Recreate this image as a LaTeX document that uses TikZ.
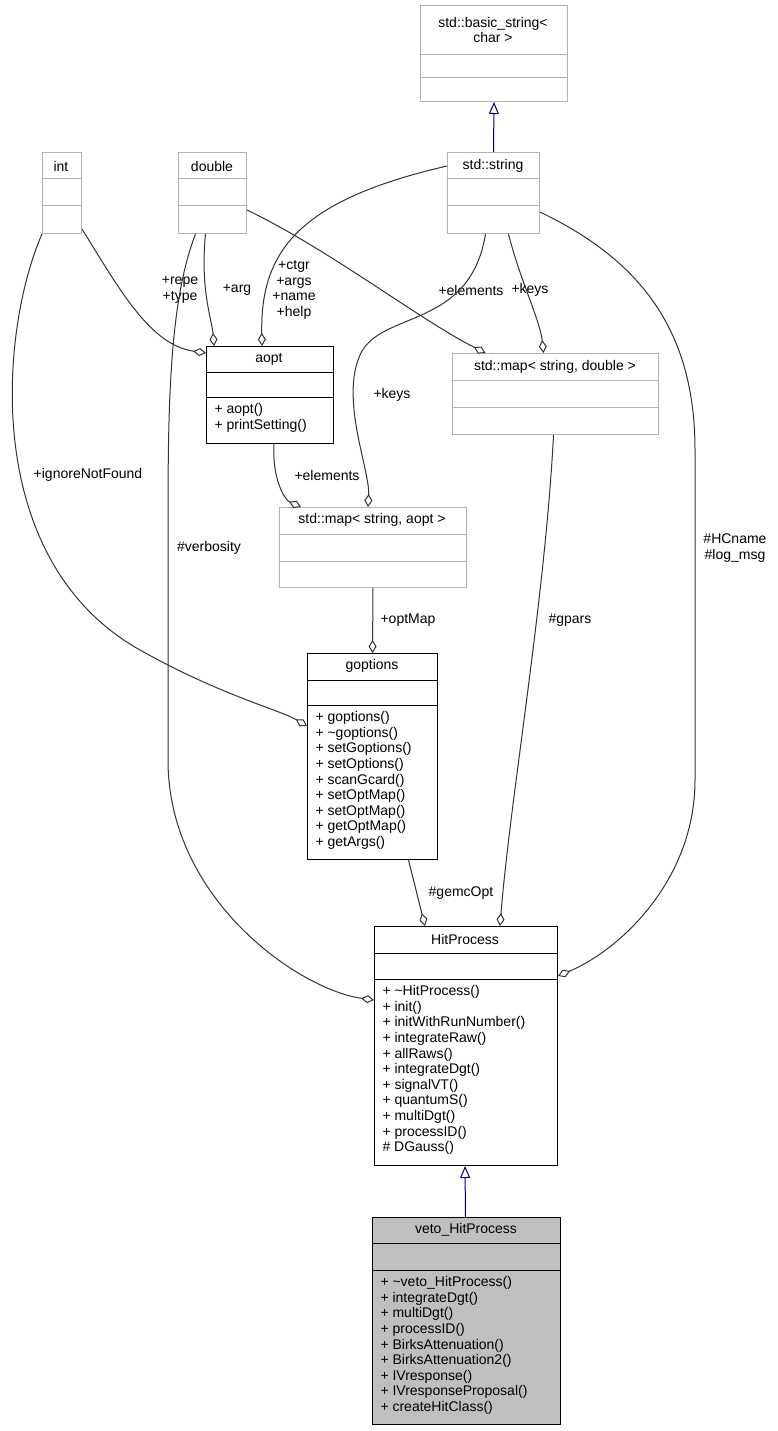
\documentclass[tikz,border=0pt]{standalone}
\usepackage{fontspec}
\setmainfont{Liberation Sans}
\usetikzlibrary{arrows.meta}
\tikzset{
 box/.style={draw=#1,rectangle,inner sep=0pt},
 lbl/.style={font=\fontsize{14}{15.6}\selectfont,align=center,inner sep=0pt},
 agg/.style={draw=black!80,-{Diamond[open,length=13pt,width=8pt]}},
 inh/.style={draw=blue!40!black,-{Triangle[open,length=12pt,width=10pt]}},
}
\newcommand\umlbox[9]{%
 \node[box=#8,minimum width={(#4-#2)*1pt},minimum height={(#5-#3)*1pt},anchor=north west,fill=#9] (#1) at (#2,#3) {};
 \draw[#8] (#2,#6) -- (#4,#6) (#2,#7) -- (#4,#7);}
\begin{document}
\begin{tikzpicture}[x=1pt,y=-1pt,line width=1pt,font=\fontsize{14}{15.6}\selectfont]
\useasboundingbox[fill=white] (0,0) rectangle (777,1431);
\umlbox{bs}{420}{5}{567}{101}{55}{78}{black!30}{white}
\node[lbl] (bst) at (493,30) {std::basic\_string<\\char >};
\umlbox{str}{447}{152}{539}{233}{179}{206}{black!30}{white}
\node[lbl] (strt) at (493,166) {std::string};
\umlbox{int}{42}{152}{81}{233}{179}{206}{black!30}{white}
\node[lbl] (intt) at (61,166) {int};
\umlbox{dbl}{178}{152}{246}{233}{179}{206}{black!30}{white}
\node[lbl] (dblt) at (212,166) {double};
\umlbox{aopt}{206}{346}{333}{443}{372}{397}{black}{white}
\node[lbl] (aoptt) at (269,359) {aopt};
\node[anchor=north west,align=left,inner sep=0pt] (aoptm) at (214,403) {+ aopt()\\+ printSetting()};
\umlbox{msd}{452}{353}{658}{434}{380}{407}{black!30}{white}
\node[lbl] (msdt) at (555,367) {std::map< string, double >};
\umlbox{msa}{279}{507}{466}{587}{534}{561}{black!30}{white}
\node[lbl] (msat) at (372,520) {std::map< string, aopt >};
\umlbox{gopt}{307}{653}{437}{859}{680}{705}{black}{white}
\node[lbl] (goptt) at (372,666) {goptions};
\node[anchor=north west,align=left,inner sep=0pt] (goptm) at (315,711) {+ goptions()\\+ \textasciitilde goptions()\\+ setGoptions()\\+ setOptions()\\+ scanGcard()\\+ setOptMap()\\+ setOptMap()\\+ getOptMap()\\+ getArgs()};
\umlbox{hp}{374}{926}{557}{1165}{953}{979}{black}{white}
\node[lbl] (hpt) at (465,939) {HitProcess};
\node[anchor=north west,align=left,inner sep=0pt] (hpm) at (382,985) {+ \textasciitilde HitProcess()\\+ init()\\+ initWithRunNumber()\\+ integrateRaw()\\+ allRaws()\\+ integrateDgt()\\+ signalVT()\\+ quantumS()\\+ multiDgt()\\+ processID()\\\# DGauss()};
\umlbox{veto}{372}{1217}{560}{1424}{1243}{1270}{black}{black!25}
\node[lbl] (vetot) at (466,1230) {veto\_HitProcess};
\node[anchor=north west,align=left,inner sep=0pt] (vetom) at (380,1276) {+ \textasciitilde veto\_HitProcess()\\+ integrateDgt()\\+ multiDgt()\\+ processID()\\+ BirksAttenuation()\\+ BirksAttenuation2()\\+ IVresponse()\\+ IVresponseProposal()\\+ createHitClass()};
% inheritance
\draw[inh] (str.north) -- (bs.south);
\draw[inh] ([xshift=-1pt]veto.north) -- ([xshift=-1pt]hp.south);
% aggregations
\draw[agg] ([yshift=5pt]int.south east) .. controls (120,290) and (150,345) .. ([yshift=-7pt]aopt.north west);
\node[lbl] (l1) at (180,290) {+repe\\+type};
\draw[agg] ([xshift=-7pt]dbl.south) .. controls (200,290) and (212,320) .. ([xshift=-56pt]aopt.north);
\node[lbl] (l2) at (237,290) {+arg};
\draw[agg] ([yshift=-14pt]str.north west) .. controls (300,200) and (260,250) .. ([xshift=-8pt]aopt.north);
\node[lbl] (l3) at (294,290) {+ctgr\\+args\\+name\\+help};
\draw[agg] ([yshift=-58pt]dbl.north east) .. controls (330,250) and (420,320) .. ([xshift=-70pt]msd.north);
\node[lbl] (l4) at (471,290) {+elements};
\draw[agg] ([xshift=15pt]str.south) .. controls (520,280) and (540,320) .. ([xshift=-12pt]msd.north);
\node[lbl] (l5) at (530,290) {+keys};
\draw[agg] ([xshift=-8pt]str.south) .. controls (470,330) and (380,310) .. (360,355) .. controls (340,400) and (370,470) .. ([xshift=-5pt]msa.north);
\node[lbl] (l6) at (392,395) {+keys};
\draw[agg] ([xshift=4pt]aopt.south) .. controls (272,480) and (285,500) .. ([xshift=-72pt]msa.north);
\node[lbl] (l7) at (327,475) {+elements};
\draw[agg] (msa.south) -- (gopt.north);
\node[lbl] (l8) at (408,620) {+optMap};
\draw[agg] (int.south west) .. controls (0,330) and (-20,560) .. (140,650) .. controls (220,695) and (280,710) .. ([yshift=-73pt]gopt.north west);
\node[lbl] (l9) at (88,475) {+ignoreNotFound};
\draw[agg] ([xshift=-17pt]dbl.south) .. controls (170,300) and (168,400) .. (168,520) -- (168,760) .. controls (168,900) and (300,990) .. ([yshift=-74pt]hp.north west);
\node[lbl] (l10) at (209,548) {\#verbosity};
\draw[agg] ([xshift=36pt]gopt.south) -- ([xshift=-41pt]hp.north);
\node[lbl] (l11) at (461,893) {\#gemcOpt};
\draw[agg] ([xshift=-2pt]msd.south) .. controls (545,600) and (510,800) .. ([xshift=34pt]hp.north);
\node[lbl] (l12) at (570,620) {\#gpars};
\draw[agg] ([yshift=-60pt]str.north east) .. controls (640,260) and (695,330) .. (695,450) -- (695,780) .. controls (695,880) and (620,950) .. ([yshift=-50pt]hp.north east);
\node[lbl] (l13) at (735,548) {\#HCname\\\#log\_msg};
\end{tikzpicture}
\end{document}
